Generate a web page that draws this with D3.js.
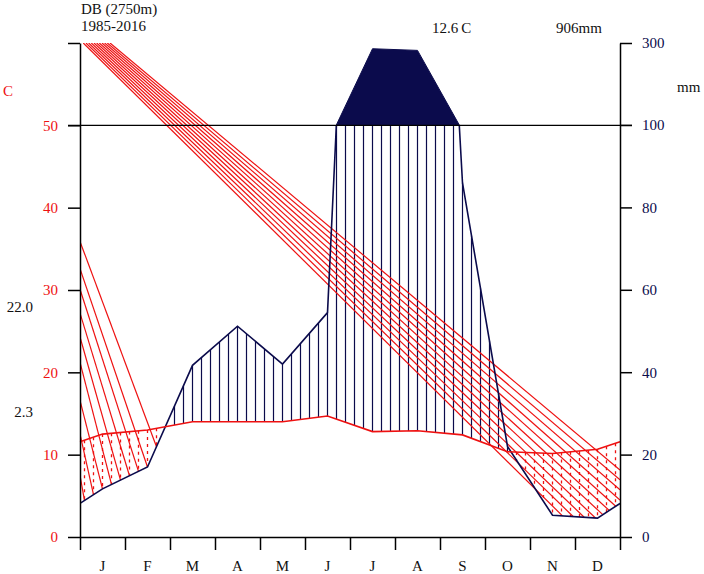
<!DOCTYPE html>
<html><head><meta charset="utf-8">
<script src="https://cdn.jsdelivr.net/npm/d3@7"></script>
<style>
body{margin:0;background:#fff}
svg{display:block}
text{font-family:"Liberation Serif","DejaVu Serif",serif}
</style>
</head><body>
<svg id="chart" width="704" height="574"></svg>
<script>
// ---------------- data ----------------
const months = ["J","F","M","A","M","J","J","A","S","O","N","D"];
const temperature = [12.5, 13.0, 14.0, 14.0, 14.0, 14.7, 12.8, 12.9, 12.4, 10.35, 10.15, 10.65];
const precipitation = [11.7, 17, 41.7, 51.2, 42, 54.5, 286, 282, 86, 22, 5.3, 4.6];
const tempTicks = [0, 10, 20, 30, 40, 50];
const precTicks = [0, 20, 40, 60, 80, 100, 300];
const stationLabel = "DB (2750m)";
const periodLabel = "1985-2016";
const meanTempLabel = "12.6\u2009C";
const totalPrecLabel = "906mm";
const absMaxLabel = "22.0";
const absMinLabel = "2.3";
// stray red diagonal lines (data units: month, °C)
const diagLeftStartTemp = [35.9, 32.6, 30.1, 27.2, 24.3, 21.2, 16.6, 12.5, 7.5];
const diagLeftEndMonth  = [1.7, 1.5, 1.3, 1.1, 0.9, 0.7, 0.5, 0.3, 0.1];
const diagTopStartMonth = [0.073, 0.133, 0.192, 0.251, 0.311, 0.370, 0.429, 0.489, 0.548, 0.607, 0.667];
const diagTopRightTemp  = [-4.33, -3.05, -1.76, -0.49, 0.78, 2.03, 3.28, 4.50, 5.73, 6.94, 8.14];

// ---------------- setup ----------------
const RED = "#ee1111", NAVY = "#0b0b4c";
const svg = d3.select("#chart");
const x = d3.scaleLinear().domain([0, 12]).range([80, 620]);
const y = d3.scaleLinear().domain([0, 60]).range([537, 43]);          // temperature units
const yP = d3.scaleLinear().domain([0, 100, 300]).range([537, 125, 43]); // precipitation axis

// extended series (edges = mean of Dec & Jan)
const mExt = [0, ...d3.range(12).map(i => i + 0.5), 12];
const tEdge = (temperature[0] + temperature[11]) / 2;
const pEdge = (precipitation[0] + precipitation[11]) / 2;
const tExt = [tEdge, ...temperature, tEdge];
const pExt = [pEdge, ...precipitation, pEdge];
function interp(arr, m) {
  for (let i = 0; i < mExt.length - 1; i++) {
    if (m >= mExt[i] && m <= mExt[i + 1]) {
      const f = (m - mExt[i]) / (mExt[i + 1] - mExt[i]);
      return arr[i] + f * (arr[i + 1] - arr[i]);
    }
  }
  return arr[arr.length - 1];
}

const defs = svg.append("defs");
defs.append("clipPath").attr("id", "plot")
  .append("rect").attr("x", x(0)).attr("y", y(60)).attr("width", x(12) - x(0)).attr("height", y(0) - y(60));
defs.append("clipPath").attr("id", "below100")
  .append("rect").attr("x", x(0)).attr("y", y(50)).attr("width", x(12) - x(0)).attr("height", y(0) - y(50));

// ---------------- hatching ----------------
const hatch = svg.append("g").attr("clip-path", "url(#plot)");
d3.range(60).forEach(k => {
  const m = 0.1 + 0.2 * k;
  const t = interp(tExt, m), p = interp(pExt, m) / 2;
  if (p > t) {
    hatch.append("line").attr("x1", x(m)).attr("x2", x(m))
      .attr("y1", y(t)).attr("y2", y(Math.min(p, 50)))
      .attr("stroke", NAVY).attr("stroke-width", 1.2);
  } else {
    hatch.append("line").attr("x1", x(m)).attr("x2", x(m))
      .attr("y1", y(t)).attr("y2", y(p))
      .attr("stroke", RED).attr("stroke-width", 1.3).attr("stroke-dasharray", "3,4");
  }
});

// stray diagonal lines
const diag = svg.append("g").attr("clip-path", "url(#plot)");
diagLeftStartTemp.forEach((t0, i) => {
  const m1 = diagLeftEndMonth[i];
  diag.append("line").attr("x1", x(0)).attr("y1", y(t0))
    .attr("x2", x(m1)).attr("y2", y(interp(pExt, m1) / 2))
    .attr("stroke", RED).attr("stroke-width", 1.2);
});
diagTopStartMonth.forEach((m0, i) => {
  const t12 = diagTopRightTemp[i];
  const lineT = m => 60 + (t12 - 60) * (m - m0) / (12 - m0);
  let mEnd = 12;
  for (let m = 10.3; m <= 12; m += 0.002) {
    if (lineT(m) <= interp(pExt, m) / 2) { mEnd = m; break; }
  }
  diag.append("line").attr("x1", x(m0)).attr("y1", y(60))
    .attr("x2", x(mEnd)).attr("y2", y(lineT(mEnd)))
    .attr("stroke", RED).attr("stroke-width", 1.2);
});

// ---------------- precipitation ----------------
// part above 100 mm (compressed scale), filled
const poly = [];
for (let i = 0; i < mExt.length - 1; i++) {
  const p0 = pExt[i], p1 = pExt[i + 1];
  if (p0 > 100) poly.push([mExt[i], p0]);
  if ((p0 <= 100) !== (p1 <= 100)) {
    const f = (100 - p0) / (p1 - p0);
    poly.push([mExt[i] + f * (mExt[i + 1] - mExt[i]), 100]);
  }
}
if (pExt[pExt.length - 1] > 100) poly.push([12, pExt[pExt.length - 1]]);
svg.append("path").datum(poly)
  .attr("d", d3.line().x(d => x(d[0])).y(d => yP(d[1])))
  .attr("fill", NAVY).attr("stroke", NAVY).attr("stroke-width", 1);

// line below 100 mm
svg.append("path").datum(mExt.map((m, i) => [m, pExt[i]]))
  .attr("clip-path", "url(#below100)")
  .attr("d", d3.line().x(d => x(d[0])).y(d => y(d[1] / 2)))
  .attr("fill", "none").attr("stroke", NAVY).attr("stroke-width", 1.6);

// ---------------- temperature ----------------
svg.append("path").datum(mExt.map((m, i) => [m, tExt[i]]))
  .attr("d", d3.line().x(d => x(d[0])).y(d => y(d[1])))
  .attr("fill", "none").attr("stroke", RED).attr("stroke-width", 1.6);

// ---------------- axes ----------------
const fs = "15px";
const gl = svg.append("g").attr("transform", `translate(${x(0)},0)`)
  .call(d3.axisLeft(y).tickValues([...tempTicks, 60]).tickSize(12).tickSizeOuter(0).tickPadding(10)
    .tickFormat(d => d === 60 ? "" : d));
gl.selectAll("text").attr("fill", RED).style("font-size", fs).style("font-family", '"Liberation Serif",serif');

const gr = svg.append("g").attr("transform", `translate(${x(12)},0)`)
  .call(d3.axisRight(yP).tickValues(precTicks).tickSize(12).tickSizeOuter(0).tickPadding(10));
gr.selectAll("text").attr("fill", NAVY).style("font-size", fs).style("font-family", '"Liberation Serif",serif');

const gb = svg.append("g").attr("transform", `translate(0,${y(0)})`)
  .call(d3.axisBottom(x).tickValues(d3.range(13)).tickSize(13).tickSizeOuter(0).tickFormat(""));

[gl, gr, gb].forEach(g => {
  g.select(".domain").attr("stroke", "#000").attr("stroke-width", 1.5);
  g.selectAll(".tick line").attr("stroke", "#000").attr("stroke-width", 1.5);
});

// 50 °C / 100 mm reference line
svg.append("line").attr("x1", x(0) - 12).attr("x2", x(12) + 12)
  .attr("y1", y(50)).attr("y2", y(50)).attr("stroke", "#000").attr("stroke-width", 1.3);

// month labels
svg.append("g").selectAll("text").data(months).join("text")
  .attr("x", (d, i) => x(i + 0.5)).attr("y", 571)
  .attr("text-anchor", "middle").attr("font-size", fs).attr("fill", "#111")
  .text(d => d);

// ---------------- texts ----------------
const txt = (s, px, py, opts = {}) => svg.append("text").attr("x", px).attr("y", py)
  .attr("font-size", opts.size || fs).attr("fill", opts.fill || "#111")
  .attr("text-anchor", opts.anchor || "start").text(s);
txt(stationLabel, 81, 14);
txt(periodLabel, 81, 31);
txt(meanTempLabel, 432, 33);
txt(totalPrecLabel, 556, 33);
txt("C", 3, 96, {fill: RED});
txt("mm", 677, 92);
txt(absMaxLabel, 33, y(27.3), {anchor: "end"});
txt(absMinLabel, 33, y(14.6), {anchor: "end"});
</script>
</body></html>
